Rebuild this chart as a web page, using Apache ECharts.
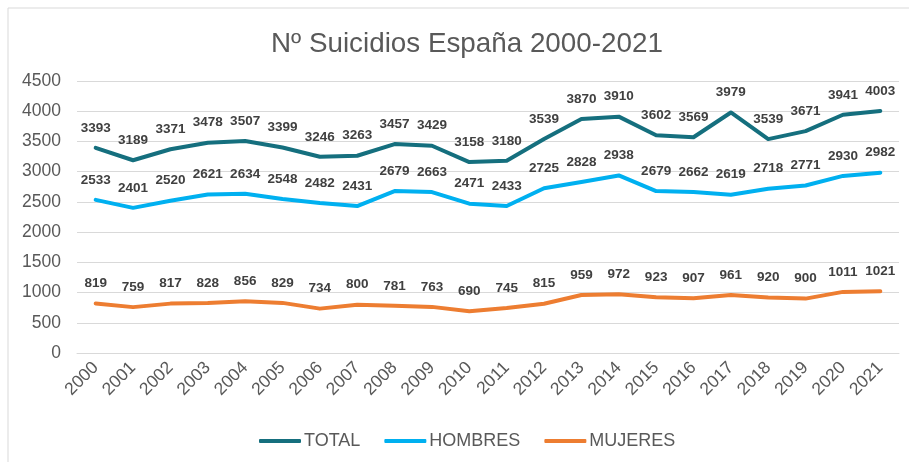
<!DOCTYPE html>
<html><head><meta charset="utf-8">
<script src="https://cdn.jsdelivr.net/npm/echarts@6/dist/echarts.min.js"></script>
<style>html,body{margin:0;padding:0;background:#fff}#c{width:909px;height:462px}</style>
</head><body><div id="c"></div>
<script>
var years = ['2000','2001','2002','2003','2004','2005','2006','2007','2008','2009','2010','2011','2012','2013','2014','2015','2016','2017','2018','2019','2020','2021'];
var total = [3393,3189,3371,3478,3507,3399,3246,3263,3457,3429,3158,3180,3539,3870,3910,3602,3569,3979,3539,3671,3941,4003];
var hombres = [2533,2401,2520,2621,2634,2548,2482,2431,2679,2663,2471,2433,2725,2828,2938,2679,2662,2619,2718,2771,2930,2982];
var mujeres = [819,759,817,828,856,829,734,800,781,763,690,745,815,959,972,923,907,961,920,900,1011,1021];
var font = 'Liberation Sans, Arial, sans-serif';
function s(name, data, color){
  return {name:name, type:'line', data:data, symbol:'circle', symbolSize:0, showSymbol:true, smooth:false,
    lineStyle:{width:4, color:color, cap:'round', join:'round'}, itemStyle:{color:color},
    labelLayout:{hideOverlap:false},
    label:{show:true, position:'top', distance:13, fontFamily:font, fontWeight:'bold', fontSize:13.5, color:'#404040'}};
}
var chart = echarts.init(document.getElementById('c'));
chart.setOption({
  animation:false,
  backgroundColor:'#fff',
  graphic:[{type:'rect', shape:{x:8,y:8,width:1000,height:1000}, style:{fill:'none', stroke:'#d9d9d9', lineWidth:1}, silent:true}],
  title:{text:'Nº Suicidios España 2000-2021', left:266, top:25, textStyle:{fontFamily:font, fontSize:27.8, fontWeight:'normal', color:'#595959'}},
  legend:{top:427, left:254, itemWidth:42, itemHeight:4, itemGap:24, icon:'roundRect',
    textStyle:{fontFamily:font, fontSize:18, color:'#595959', padding:[0,0,0,-2]}, data:['TOTAL','HOMBRES','MUJERES']},
  grid:{left:77, right:10, top:81, bottom:109, containLabel:false},
  xAxis:{type:'category', data:years, boundaryGap:true,
    axisLine:{lineStyle:{color:'#d9d9d9', width:1}}, axisTick:{show:false},
    axisLabel:{rotate:45, fontFamily:font, fontSize:17.5, color:'#595959', margin:12, interval:0}},
  yAxis:{type:'value', min:0, max:4500, interval:500,
    axisLine:{show:false}, axisTick:{show:false},
    splitLine:{lineStyle:{color:'#d9d9d9', width:1}},
    axisLabel:{fontFamily:font, fontSize:17.5, color:'#595959', margin:16, formatter:function(v){return String(v);}}},
  series:[s('TOTAL', total, '#156F7E'), s('HOMBRES', hombres, '#00B0F0'), s('MUJERES', mujeres, '#ED7D31')]
});
</script></body></html>
